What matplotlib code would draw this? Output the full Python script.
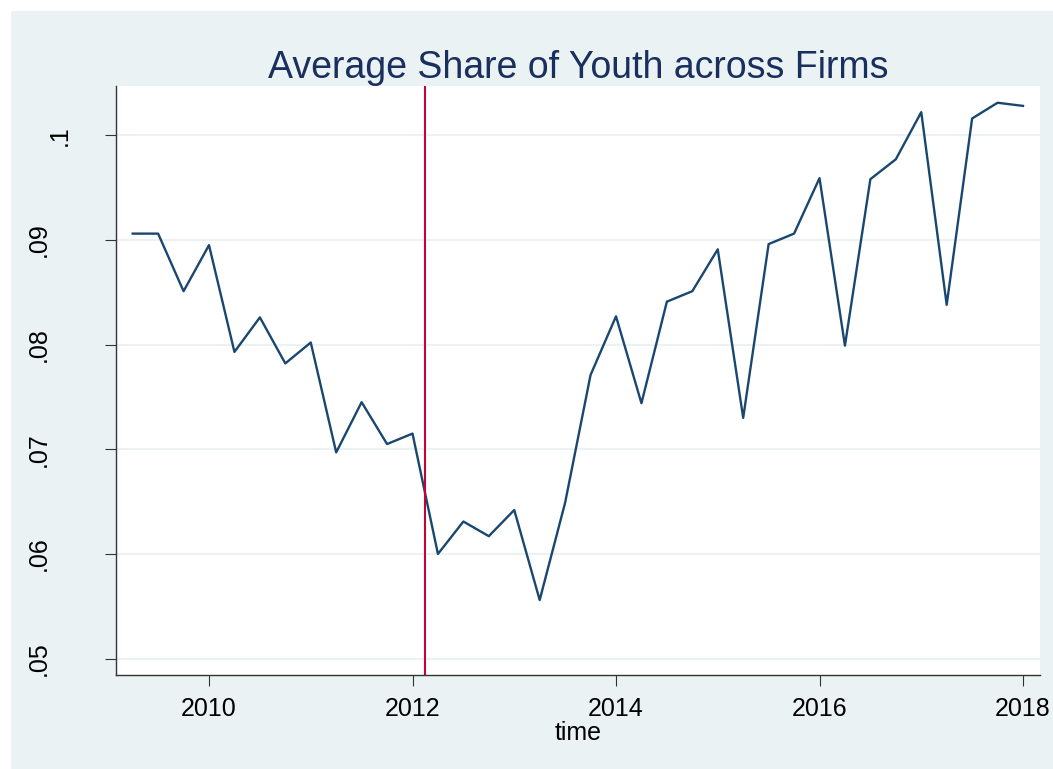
import numpy as np
import matplotlib
matplotlib.use("Agg")
import matplotlib.pyplot as plt
from matplotlib.patches import Rectangle

plt.rcParams['font.family'] = ['Liberation Sans', 'DejaVu Sans']

# quarterly data, 2009q2 .. 2018q1
time = np.arange(2009.25, 2018.01, 0.25)
share = [0.0906, 0.0906, 0.0851, 0.0895, 0.0793, 0.0826, 0.0782, 0.0802,
         0.0697, 0.0745, 0.0705, 0.0715, 0.0600, 0.0631, 0.0617, 0.0642,
         0.0556, 0.0649, 0.0771, 0.0827, 0.0744, 0.0841, 0.0851, 0.0891,
         0.0730, 0.0896, 0.0906, 0.0959, 0.0799, 0.0958, 0.0977, 0.1022,
         0.0838, 0.1016, 0.1031, 0.1028]
event_time = 2012.125
xticks = [2010, 2012, 2014, 2016, 2018]
yticks = [0.05, 0.06, 0.07, 0.08, 0.09, 0.1]
ytick_labels = ['.05', '.06', '.07', '.08', '.09', '.1']

bg = '#eaf2f3'
navy = '#1a476f'

W, H = 1053, 769
fig = plt.figure(figsize=(W / 100, H / 100), dpi=100, facecolor='white')
fig.add_artist(Rectangle((11 / W, 0), 1 - 11 / W, 1 - 11 / H,
                         transform=fig.transFigure, facecolor=bg,
                         edgecolor='none', zorder=-10))

ax = fig.add_axes([116 / W, (H - 675) / H, (1040 - 116) / W, (675 - 86) / H])
ax.set_zorder(1)
ax.set_facecolor('white')

ax.plot(time, share, color=navy, lw=1.7, zorder=3)
ax.axvline(event_time, color='#c10534', lw=1.5, zorder=4)

ax.set_xlim(2009.086, 2018.167)
ax.set_ylim(0.04844, 0.1047)
ax.set_xticks(xticks)
ax.set_yticks(yticks)
ax.set_yticklabels(ytick_labels, rotation=90, va='center')
ax.grid(axis='y', color=bg, lw=1.5, zorder=0)
ax.grid(axis='x', visible=False)

for s in ['top', 'right']:
    ax.spines[s].set_visible(False)
for s in ['left', 'bottom']:
    ax.spines[s].set_color('#333333')
    ax.spines[s].set_linewidth(1.0)

ax.tick_params(axis='x', length=8, width=0.8, color='#333333', labelsize=18, pad=8)
ax.tick_params(axis='y', length=8, width=0.8, color='#333333', labelsize=18, pad=39)
# the ".1" label sits closer to the axis in the original
ax.yaxis.get_major_ticks()[-1].set_pad(24)

ax.set_xlabel('time', fontsize=18, labelpad=0)
ax.set_title('Average Share of Youth across Firms', fontsize=27, color='#1a2f5e', pad=6)

fig.savefig('out.png', dpi=100, facecolor='white')
